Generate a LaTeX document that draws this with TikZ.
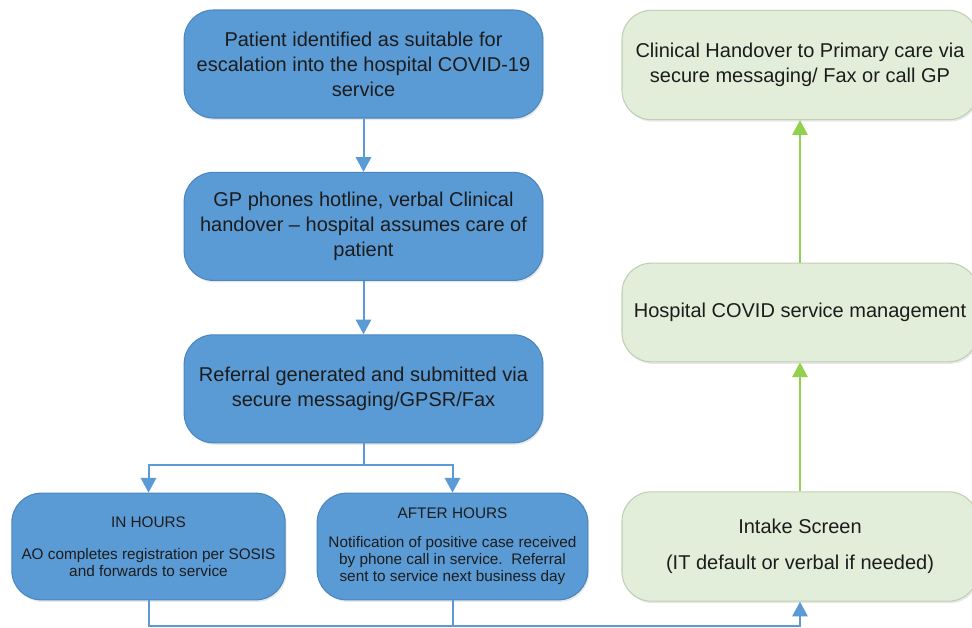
\documentclass[tikz,border=0pt]{standalone}
\usepackage{fontspec}
\setmainfont{Liberation Sans}
\usepackage{xcolor}
\usetikzlibrary{arrows.meta, positioning, shadows}

\definecolor{boxblue}{RGB}{91,155,213}
\definecolor{edgeblue}{RGB}{74,134,192}
\definecolor{boxgreen}{RGB}{227,238,218}
\definecolor{edgegreen}{RGB}{192,207,180}
\definecolor{linegreen}{RGB}{146,208,80}
\definecolor{textdark}{RGB}{28,28,28}

\begin{document}
\begin{tikzpicture}[
    x=0.75pt, y=-0.75pt,
    stage/.style={
        rectangle,
        draw=edgeblue,
        fill=boxblue,
        line width=0.8pt,
        rounded corners=22pt,
        minimum width=269pt,
        minimum height=81pt,
        align=center,
        text=textdark,
        font=\fontsize{15}{18.75}\selectfont,
        drop shadow={opacity=0.18, shadow xshift=1pt, shadow yshift=-1.5pt}
    },
    route/.style={
        stage,
        minimum width=205pt,
        minimum height=80pt,
        font=\fontsize{11.5}{12.75}\selectfont
    },
    outcome/.style={
        stage,
        draw=edgegreen,
        fill=boxgreen,
        minimum width=267pt
    },
    wire/.style={line width=1.5pt, color=boxblue},
    arrow/.style={-{Triangle[length=11pt, width=11.5pt]}, line width=1.5pt, color=boxblue},
    uparrow/.style={arrow, color=linegreen},
    node distance=40pt
]
\useasboundingbox (0,0) rectangle (972,628);
\clip (0,0) rectangle (972,628);

% Referral flow
\node[stage] (esc) at (363.5,64) {Patient identified as suitable for\\escalation into the hospital COVID-19\\service};
\node[stage, below=of esc] (gp) {GP phones hotline, verbal Clinical\\handover -- hospital assumes care of\\patient};
\node[stage, below=of gp] (ref) {Referral generated and submitted via\\secure messaging/GPSR/Fax};
\draw[arrow] (esc) -- (gp);
\draw[arrow] (gp) -- (ref);

% In hours / after hours
\node[route] (inh) at (148.5,546.5) {IN HOURS\\[11pt]AO completes registration per SOSIS\\and forwards to service};
\node[route, minimum width=203pt] (aft) at (452.5,546.5) {AFTER HOURS\\[9pt]Notification of positive case received\\by phone call in service.\ \ Referral\\sent to service next business day};
\coordinate (split) at (363.5,465);
\draw[wire] (ref) -- (split);
\draw[arrow] (split) -| (inh);
\draw[arrow] (split) -| (aft);

% Hospital service
\node[outcome, minimum height=82pt] (intake) at (800,546.5) {Intake Screen\\[8pt](IT default or verbal if needed)};
\node[outcome, minimum height=74pt] (care) at (800,312.5) {Hospital COVID service management};
\node[outcome, minimum height=82pt] (handover) at (800,65) {Clinical Handover to Primary care via\\secure messaging/ Fax or call GP};
\coordinate (bus) at (800,626);
\draw[arrow] (inh) |- (bus) -- (intake);
\draw[wire] (aft) -- (aft |- bus);
\draw[uparrow] (intake) -- (care);
\draw[uparrow] (care) -- (handover);

\end{tikzpicture}
\end{document}
